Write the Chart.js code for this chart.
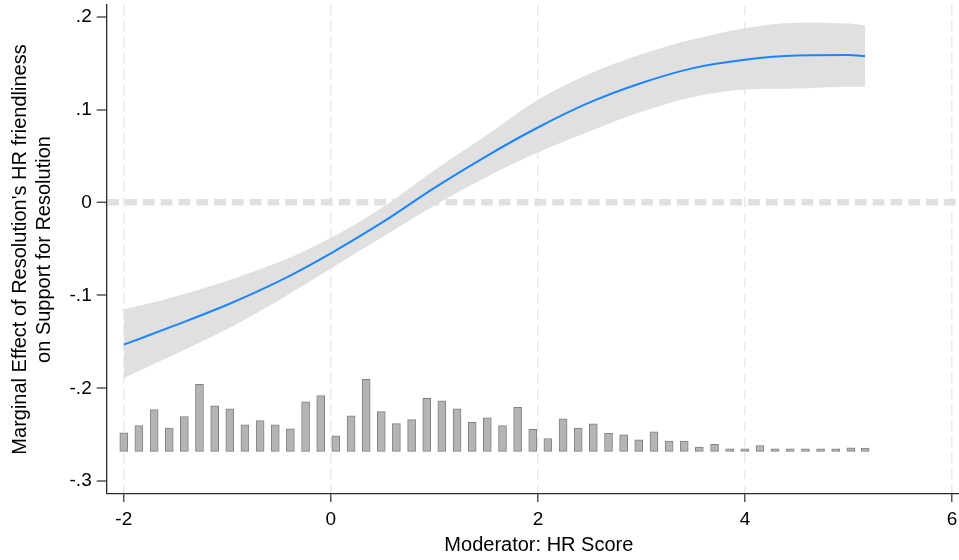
<!DOCTYPE html>
<html>
<head>
<meta charset="utf-8">
<title>Marginal effect of HR friendliness</title>
<script src="https://cdn.jsdelivr.net/npm/chart.js@4.4.1/dist/chart.umd.min.js"></script>
<style>
  html, body { margin: 0; padding: 0; background: #ffffff; overflow: hidden; }
  /* the plot region runs slightly past the right edge of the frame */
  #wrap { width: 959px; height: 560px; overflow: hidden; }
  #chart { display: block; }
</style>
</head>
<body>
<div id="wrap"><canvas id="chart" width="971" height="560"></canvas></div>
<script>
// Moderator values at which the marginal effect is evaluated
const hrScore = [-2.0, -1.5, -1.0, -0.5, 0.0, 0.5, 1.0, 1.5, 2.0, 2.5, 3.0, 3.5, 4.0, 4.5, 5.0, 5.16];
// Estimated marginal effect
const effect  = [-0.153, -0.132, -0.110, -0.0846, -0.0545, -0.021, 0.016, 0.050, 0.081, 0.108, 0.129, 0.145, 0.154, 0.1585, 0.159, 0.158];
// 95% confidence band
const ciLower = [-0.189, -0.163, -0.136, -0.105, -0.071, -0.037, -0.003, 0.0275, 0.054, 0.077, 0.098, 0.114, 0.122, 0.123, 0.125, 0.125];
const ciUpper = [-0.115, -0.101, -0.084, -0.064, -0.038, -0.005, 0.035, 0.0725, 0.111, 0.139, 0.160, 0.176, 0.188, 0.194, 0.193, 0.191];

// Distribution of the moderator (histogram drawn along the bottom)
const binCenters = [-2.000, -1.854, -1.707, -1.561, -1.415, -1.269, -1.122, -0.976, -0.830, -0.683,
                    -0.537, -0.391, -0.244, -0.098, 0.048, 0.195, 0.341, 0.487, 0.633, 0.780,
                    0.926, 1.072, 1.219, 1.365, 1.511, 1.658, 1.804, 1.950, 2.096, 2.243,
                    2.389, 2.535, 2.682, 2.828, 2.974, 3.121, 3.267, 3.413, 3.559, 3.706,
                    3.852, 3.998, 4.145, 4.291, 4.437, 4.584, 4.730, 4.876, 5.023, 5.160];
const binTops = [-0.2480, -0.2401, -0.2229, -0.2430, -0.2304, -0.1957, -0.2189, -0.2222, -0.2394, -0.2347,
                 -0.2394, -0.2437, -0.2146, -0.2078, -0.2512, -0.2297, -0.1903, -0.2251, -0.2380, -0.2337,
                 -0.2108, -0.2135, -0.2222, -0.2366, -0.2318, -0.2401, -0.2204, -0.2441, -0.2541, -0.2329,
                 -0.2430, -0.2383, -0.2484, -0.2501, -0.2555, -0.2469, -0.2570, -0.2570, -0.2634, -0.2605,
                 -0.2652, -0.2652, -0.2616, -0.2652, -0.2652, -0.2652, -0.2652, -0.2652, -0.2641, -0.2645];
const binBase = -0.268;

// Axis ticks
const xTicks = [-2, 0, 2, 4, 6];
const xTickLabels = ['-2', '0', '2', '4', '6'];
const yTicks = [-0.3, -0.2, -0.1, 0, 0.1, 0.2];
const yTickLabels = ['-.3', '-.2', '-.1', '0', '.1', '.2'];

const FONT = "'Liberation Sans', Arial, Helvetica, sans-serif";
Chart.defaults.font.family = FONT;
Chart.defaults.color = '#000000';

const pts = (xs, ys) => xs.map((x, i) => ({ x: x, y: ys[i] }));

new Chart(document.getElementById('chart'), {
  type: 'line',
  data: {
    datasets: [
      {
        label: 'Marginal effect',
        data: pts(hrScore, effect),
        borderColor: '#1a85ff',
        borderWidth: 2,
        pointRadius: 0,
        fill: false,
        cubicInterpolationMode: 'monotone',
        order: 0
      },
      {
        label: 'Upper bound',
        data: pts(hrScore, ciUpper),
        borderColor: 'rgba(0,0,0,0)',
        borderWidth: 0,
        backgroundColor: '#e0e0e0',
        pointRadius: 0,
        fill: '+1',
        cubicInterpolationMode: 'monotone',
        order: 1
      },
      {
        label: 'Lower bound',
        data: pts(hrScore, ciLower),
        borderColor: 'rgba(0,0,0,0)',
        borderWidth: 0,
        pointRadius: 0,
        fill: false,
        cubicInterpolationMode: 'monotone',
        order: 2
      },
      {
        type: 'bar',
        label: 'HR Score distribution',
        data: binCenters.map((x, i) => ({ x: x, y: [binBase, binTops[i]] })),
        backgroundColor: '#b4b4b4',
        borderColor: '#808080',
        borderWidth: 1,
        borderSkipped: false,
        barThickness: 8,
        order: 3
      }
    ]
  },
  options: {
    responsive: false,
    animation: false,
    layout: { padding: { left: 0, right: 0, top: 5, bottom: 0 } },
    plugins: {
      legend: { display: false },
      tooltip: { enabled: false }
    },
    scales: {
      x: {
        type: 'linear',
        min: -2.165,
        max: 6.183,
        offset: false,
        afterBuildTicks: s => { s.ticks = xTicks.map(v => ({ value: v })); },
        afterFit: s => { s.height = 66; s.paddingLeft = 0; s.paddingRight = 0; },
        grid: {
          display: true,
          drawOnChartArea: true,
          drawTicks: true,
          offset: false,
          color: '#e9e9e9',
          lineWidth: 1.6,
          tickColor: '#2b2b2b',
          tickWidth: 1.2,
          tickLength: 8
        },
        border: { display: true, color: '#2b2b2b', width: 1.3, dash: [10, 6] },
        ticks: {
          autoSkip: false,
          maxRotation: 0,
          padding: 6,
          color: '#000000',
          font: { family: FONT, size: 19 },
          callback: (v, i) => xTickLabels[i]
        },
        title: {
          display: true,
          text: 'Moderator: HR Score',
          color: '#000000',
          font: { family: FONT, size: 20 },
          padding: { top: 0, bottom: 3 }
        }
      },
      y: {
        type: 'linear',
        min: -0.3139,
        max: 0.2130,
        afterBuildTicks: s => { s.ticks = yTicks.map(v => ({ value: v })); },
        afterFit: s => { s.width = 106.7; s.paddingTop = 0; s.paddingBottom = 0; },
        grid: {
          display: true,
          drawOnChartArea: true,
          drawTicks: true,
          color: c => (c.tick && c.tick.value === 0) ? '#e0e0e0' : 'rgba(0,0,0,0)',
          lineWidth: c => (c.tick && c.tick.value === 0) ? 6.5 : 0,
          tickColor: '#2b2b2b',
          tickWidth: 1.2,
          tickLength: 10
        },
        border: { display: true, color: '#2b2b2b', width: 1.3, dash: [11.7, 6.1] },
        ticks: {
          autoSkip: false,
          padding: 5,
          color: '#000000',
          font: { family: FONT, size: 19 },
          callback: (v, i) => yTickLabels[i]
        },
        title: {
          display: true,
          text: ["Marginal Effect of Resolution's HR friendliness", 'on Support for Resolution'],
          color: '#000000',
          font: { family: FONT, size: 20 },
          padding: { top: 8, bottom: 0 }
        }
      }
    }
  }
});
</script>
</body>
</html>
